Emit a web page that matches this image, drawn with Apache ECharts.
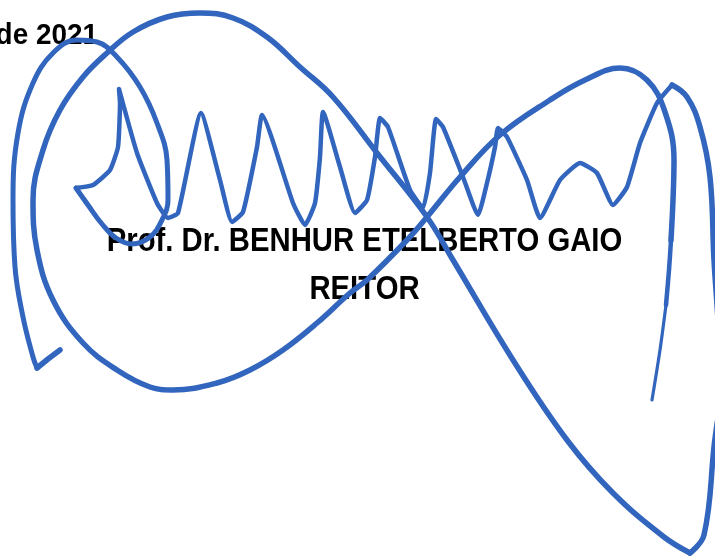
<!DOCTYPE html>
<html>
<head>
<meta charset="utf-8">
<script src="https://cdn.jsdelivr.net/npm/echarts@6/dist/echarts.min.js"></script>
<style>
html,body{margin:0;padding:0;background:#fff;}
#chart{width:715px;height:556px;}
</style>
</head>
<body>
<div id="chart"></div>
<script>
// Signature strokes (x, y in picture units; y grows downward)
var hookStroke = [[60,350],[48,359],[37,368]];
var loopStroke = [[37,368],[33,357],[23,317],[15,267],[13,200],[18,133],[33,83],[53,53],[77,40],[97,42],[117,57],[140,87],[157,123],[167,160],[168,200],[162,220],[150,237],[132,244],[116,238],[102,224],[88,205],[76,188]];
var zigzagStroke = [[76,188],[93,185],[110,170],[118,147],[120,103],[119,89],[137,153],[157,203],[168,218],[178,213],[201,113],[220,180],[232,222],[243,212],[257,147],[262,115],[293,203],[305,225],[315,203],[320,157],[323,112],[340,167],[355,213],[367,200],[375,157],[380,118],[388,127],[410,190],[423,208],[430,173],[436,119],[443,127],[463,177],[478,215],[487,183],[495,147],[498,128],[507,137],[527,180],[540,218],[560,180],[580,163],[597,173],[613,205],[627,187],[640,143],[657,103],[672,85]];
var rightStroke = [[672,85],[687,97],[700,127],[710,177],[714,260],[718,320],[721,380],[714,447],[704,535],[690,553]];
var bigLoopStroke = [[690,553],[664,537],[613,493],[567,440],[513,360],[453,260],[427,217],[377,153],[333,97],[300,67],[267,37],[233,18],[200,13],[167,17],[133,32],[107,53],[83,77],[60,110],[43,150],[33,200],[37,250],[53,300],[83,343],[117,370],[150,387],[173,390],[217,383],[250,370],[283,350],[317,323],[350,293],[367,280],[407,240],[427,217],[460,177],[500,135],[550,100],[585,80],[620,68],[647,80],[665,112],[674,160],[673,200],[671,240]];
var tailStroke1 = [[671,240],[669,270],[666,305]];
var tailStroke2 = [[666,305],[660,350],[652,400]];

var textLines = ['de 2021', 'Prof. Dr. BENHUR ETELBERTO GAIO', 'REITOR'];

var inkColor = '#3265bd';
var chart = echarts.init(document.getElementById('chart'), null, {renderer: 'canvas'});

function stroke(name, data, width, smooth) {
  return {
    name: name, type: 'line', data: data, smooth: smooth, symbol: 'none',
    clip: true, silent: true, animation: false, z: 5,
    lineStyle: {color: inkColor, width: width, cap: 'round', join: 'round'}
  };
}

var font = 'bold 33px "Liberation Sans", Arial, sans-serif';
chart.setOption({
  backgroundColor: '#ffffff',
  animation: false,
  grid: {left: 0, right: 0, top: 0, bottom: 0},
  xAxis: {type: 'value', min: 0, max: 715, show: false},
  yAxis: {type: 'value', min: 0, max: 556, inverse: true, show: false},
  graphic: [
    {type: 'text', x: 98, y: 36, scaleX: 0.93, z: 0,
     style: {text: textLines[0], font: 'bold 30px "Liberation Sans", Arial, sans-serif', fill: '#000', textAlign: 'right', textVerticalAlign: 'middle'}},
    {type: 'text', x: 364.5, y: 242, scaleX: 0.888, z: 0,
     style: {text: textLines[1], font: font, fill: '#000', textAlign: 'center', textVerticalAlign: 'middle'}},
    {type: 'text', x: 364.5, y: 290, scaleX: 0.888, z: 0,
     style: {text: textLines[2], font: font, fill: '#000', textAlign: 'center', textVerticalAlign: 'middle'}}
  ],
  series: [
    stroke('hook', hookStroke, 5.5, false),
    stroke('loop', loopStroke, 5, 0.4),
    stroke('zigzag', zigzagStroke, 4.5, 0.15),
    stroke('right', rightStroke, 5.5, 0.4),
    stroke('bigLoop', bigLoopStroke, 5.5, 0.4),
    stroke('tail1', tailStroke1, 4.5, 0.3),
    stroke('tail2', tailStroke2, 3.2, 0.3)
  ]
});
</script>
</body>
</html>
